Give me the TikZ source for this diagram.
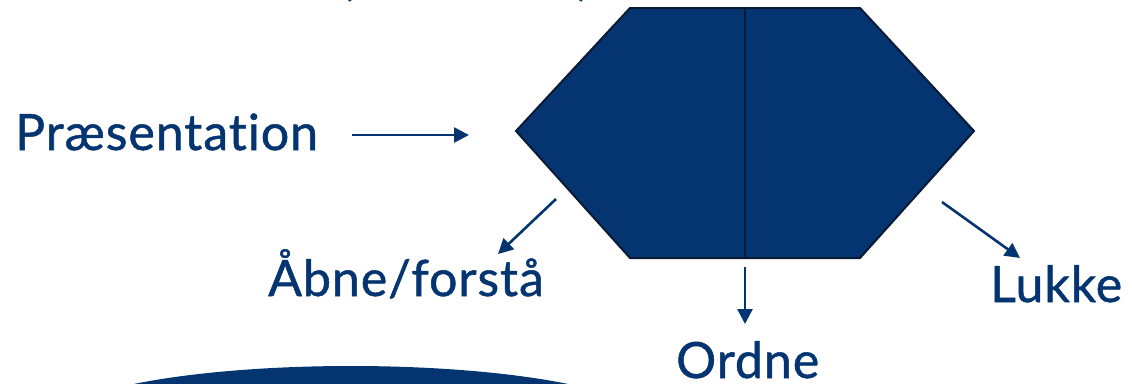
\documentclass[tikz,border=0pt]{standalone}
\usepackage{fontspec}
\setmainfont{Lato}[RawFeature=-liga]
\newfontfamily\lblfont{Lato}[FakeBold=1.0, RawFeature=-liga, LetterSpace=2]
\usetikzlibrary{arrows.meta}
\definecolor{navy}{RGB}{4,53,112}
\definecolor{edge}{RGB}{10,26,52}
\tikzset{
  lbl/.style={text=navy, inner sep=0pt, anchor=base west, font=\lblfont\fontsize{50}{60}\selectfont},
  conn/.style={draw=navy, line width=2.6pt, -{Triangle[length=15pt,width=15pt]}}
}
\begin{document}
\begin{tikzpicture}[x=1pt,y=-1pt]
\useasboundingbox (0,0) rectangle (1132,383);
\begin{scope}
\clip (0,0) rectangle (1132,383);
% bottom curved band
\fill[navy] (351,424) ellipse [x radius=300, y radius=58];
% clipped top parentheses
\node[lbl] (lp) at (340,-6) {(};
\node[lbl] (rp) at (577,-6) {)};
\end{scope}
% hexagon
\coordinate (t1) at (630,8);
\coordinate (t2) at (860,8);
\coordinate (r) at (974,131);
\coordinate (b2) at (860,258);
\coordinate (b1) at (630,258);
\coordinate (l) at (516,131);
\coordinate (mt) at (745,8);
\coordinate (mb) at (745,258);
\draw[fill=navy, draw=edge, line width=2pt, line join=miter] (t1) -- (t2) -- (r) -- (b2) -- (b1) -- (l) -- cycle;
\draw[edge, line width=2pt] (mt) -- (mb);
% labels
\node[lbl] (pres) at (15,150) {Præsentation};
\node[lbl] (aabne) at (268,296) {Åbne/forstå};
\node[lbl] (ordne) at (676,378) {Ordne};
\node[lbl] (lukke) at (990,302) {Lukke};
% arrow endpoints
\coordinate (pa) at (352,135);
\coordinate (pb) at (469,135);
\coordinate (aa) at (556,199);
\coordinate (ab) at (498,254);
\coordinate (oa) at (745,267);
\coordinate (ob) at (745,324);
\coordinate (la) at (942,202);
\coordinate (lb) at (1020,258);
\draw[conn] (pa) -- (pb);
\draw[conn] (aa) -- (ab);
\draw[conn] (oa) -- (ob);
\draw[conn] (la) -- (lb);
\end{tikzpicture}
\end{document}
